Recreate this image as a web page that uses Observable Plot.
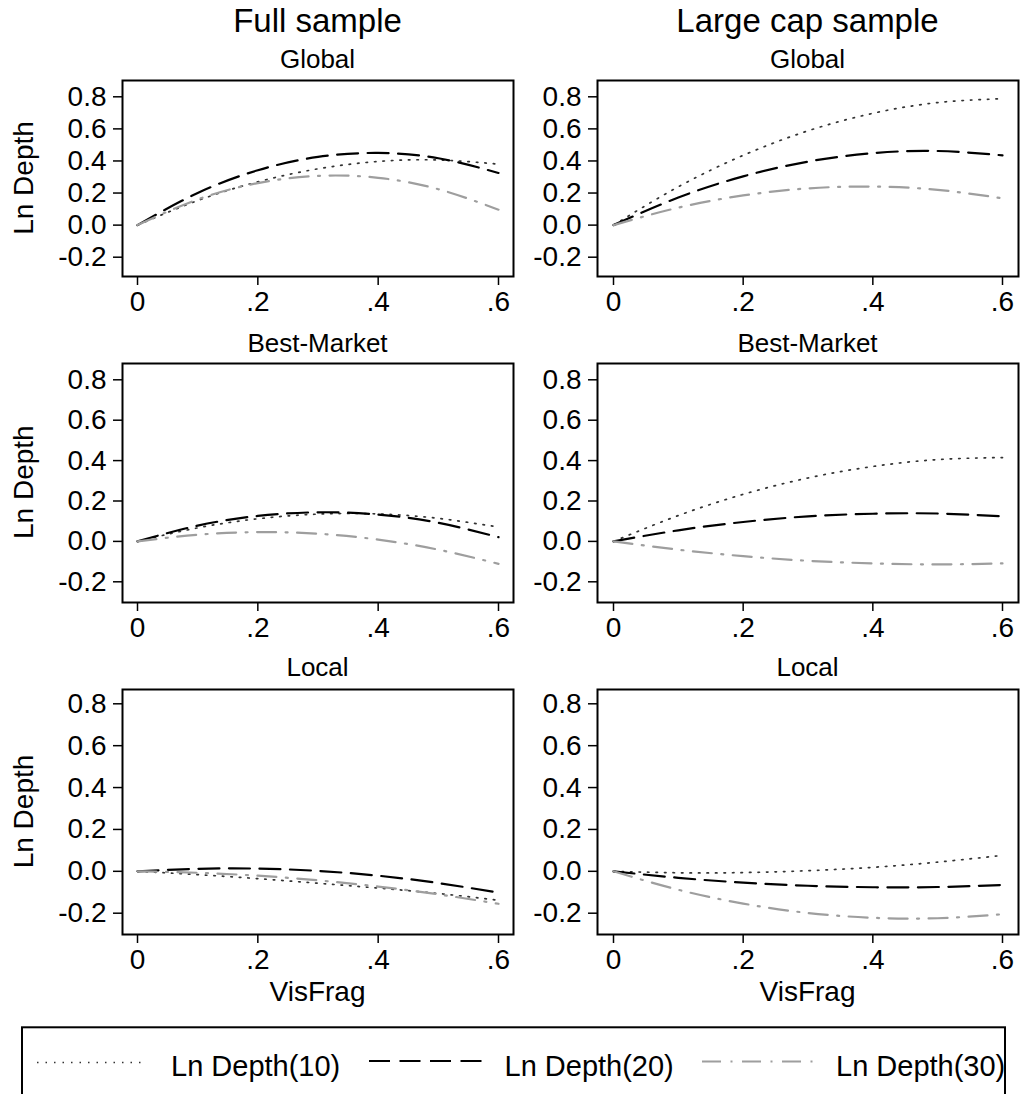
<!DOCTYPE html>
<html>
<head>
<meta charset="utf-8">
<script src="https://cdn.jsdelivr.net/npm/d3@7"></script>
<script src="https://cdn.jsdelivr.net/npm/@observablehq/plot@0.6"></script>
<style>
  html, body { margin: 0; padding: 0; background: #fff; }
  #chart { position: relative; width: 1020px; height: 1094px; overflow: hidden; background: #fff; }
  .panel { position: absolute; }
  .panel svg { max-width: none !important; display: block; }
  #overlay { position: absolute; left: 0; top: 0; pointer-events: none; }
</style>
</head>
<body>
<div id="chart"></div>
<script>
// ---------------- data ----------------
const visFrag = [0, 0.1, 0.2, 0.3, 0.4, 0.5, 0.6];
const seriesNames = ["Ln Depth(10)", "Ln Depth(20)", "Ln Depth(30)"];
const sampleTitles = ["Full sample", "Large cap sample"];
const marketTitles = ["Global", "Best-Market", "Local"];
const yTicks = [-0.2, 0, 0.2, 0.4, 0.6, 0.8];
const xTicks = [0, 0.2, 0.4, 0.6];
const yTitle = "Ln Depth";
const xTitle = "VisFrag";

// Full sample
const fullGlobal10 = [0, 0.153, 0.270, 0.351, 0.397, 0.406, 0.380];
const fullGlobal20 = [0, 0.200, 0.342, 0.425, 0.450, 0.417, 0.325];
const fullGlobal30 = [0, 0.160, 0.262, 0.307, 0.295, 0.224, 0.096];
const fullBest10   = [0, 0.067, 0.112, 0.135, 0.136, 0.114, 0.071];
const fullBest20   = [0, 0.078, 0.126, 0.144, 0.133, 0.092, 0.021];
const fullBest30   = [0, 0.033, 0.046, 0.038, 0.009, -0.041, -0.111];
const fullLocal10  = [0, -0.016, -0.035, -0.057, -0.080, -0.106, -0.138];
const fullLocal20  = [0, 0.012, 0.013, 0.002, -0.021, -0.056, -0.102];
const fullLocal30  = [0, -0.007, -0.021, -0.043, -0.073, -0.110, -0.155];
// Large cap sample
const largeGlobal10 = [0, 0.239, 0.435, 0.588, 0.697, 0.764, 0.788];
const largeGlobal20 = [0, 0.172, 0.304, 0.396, 0.449, 0.462, 0.435];
const largeGlobal30 = [0, 0.109, 0.185, 0.229, 0.240, 0.220, 0.167];
const largeBest10   = [0, 0.128, 0.233, 0.314, 0.371, 0.405, 0.415];
const largeBest20   = [0, 0.055, 0.096, 0.124, 0.137, 0.138, 0.124];
const largeBest30   = [0, -0.041, -0.073, -0.096, -0.109, -0.114, -0.109];
const largeLocal10  = [0, -0.007, -0.006, 0.003, 0.019, 0.044, 0.076];
const largeLocal20  = [0, -0.031, -0.054, -0.069, -0.076, -0.075, -0.065];
const largeLocal30  = [0, -0.088, -0.154, -0.199, -0.222, -0.224, -0.205];

const panelSeries = [
  [[fullGlobal10, fullGlobal20, fullGlobal30], [largeGlobal10, largeGlobal20, largeGlobal30]],
  [[fullBest10, fullBest20, fullBest30],       [largeBest10, largeBest20, largeBest30]],
  [[fullLocal10, fullLocal20, fullLocal30],    [largeLocal10, largeLocal20, largeLocal30]]
];

// ---------------- styles & layout ----------------
const FONT = "'Liberation Sans', Arial, Helvetica, sans-serif";
const lineStyles = [
  {stroke: "#333333", strokeWidth: 1.7, strokeDasharray: "1.5,7"},
  {stroke: "#000000", strokeWidth: 2.2, strokeDasharray: "21,9.5"},
  {stroke: "#9e9e9e", strokeWidth: 2.2, strokeDasharray: "19,9.5,2,9.5"}
];
const cols = [
  {left: 122, width: 391, insetLeft: 15, insetRight: 15, center: 317.5},
  {left: 597, width: 421, insetLeft: 16, insetRight: 16, center: 807.5}
];
const rows = [
  {top: 80,    height: 196, insetTop: 16.3, insetBottom: 19.3, titleY: 68.3},
  {top: 362.7, height: 239, insetTop: 16.3, insetBottom: 20.7, titleY: 351.7},
  {top: 689,   height: 245, insetTop: 14.3, insetBottom: 21.3, titleY: 676}
];
const ML = 112, MR = 6, MT = 4, MB = 44;

const fmtY = d => d.toFixed(1);
const fmtX = d => d === 0 ? "0" : d.toFixed(1).replace(/^0\./, ".");

const chart = document.getElementById("chart");

rows.forEach((row, ri) => {
  cols.forEach((col, ci) => {
    const series = panelSeries[ri][ci];
    const data = [];
    series.forEach((vals, si) => {
      vals.forEach((v, i) => data.push({x: visFrag[i], y: v, s: seriesNames[si]}));
    });
    const W = col.width + ML + MR, H = row.height + MT + MB;
    const svg = Plot.plot({
      width: W, height: H,
      marginLeft: ML, marginRight: MR, marginTop: MT, marginBottom: MB,
      style: {fontFamily: FONT, fontSize: "28px", color: "#000", background: "transparent", overflow: "visible", maxWidth: "none"},
      x: {domain: [0, 0.6], insetLeft: col.insetLeft, insetRight: col.insetRight},
      y: {domain: [-0.2, 0.8], insetTop: row.insetTop, insetBottom: row.insetBottom},
      marks: [
        ...seriesNames.map((name, si) => Plot.line(data.filter(d => d.s === name), {
          x: "x", y: "y", curve: "natural", ...lineStyles[si]
        })),
        Plot.frame({stroke: "#000", strokeWidth: 2}),
        Plot.axisX({ticks: xTicks, tickFormat: fmtX, tickSize: 9, tickPadding: 6, strokeWidth: 1.5, label: null}),
        Plot.axisY({ticks: yTicks, tickFormat: fmtY, tickSize: 9, tickPadding: 7, strokeWidth: 1.5, label: null})
      ]
    });
    const div = document.createElement("div");
    div.className = "panel";
    div.style.left = (col.left - ML) + "px";
    div.style.top = (row.top - MT) + "px";
    div.style.width = W + "px";
    div.style.height = H + "px";
    div.appendChild(svg);
    chart.appendChild(div);
  });
});

// ---------------- titles and legend ----------------
const ov = d3.select("#chart").append("svg")
  .attr("id", "overlay")
  .attr("width", 1020).attr("height", 1094)
  .style("font-family", FONT);

sampleTitles.forEach((t, ci) => {
  ov.append("text").attr("x", cols[ci].center).attr("y", 31.7)
    .attr("text-anchor", "middle").attr("font-size", 33).text(t);
});
rows.forEach((row, ri) => {
  cols.forEach(col => {
    ov.append("text").attr("x", col.center).attr("y", row.titleY)
      .attr("text-anchor", "middle").attr("font-size", 26).text(marketTitles[ri]);
  });
  ov.append("text")
    .attr("transform", `translate(33,${row.top + row.height / 2}) rotate(-90)`)
    .attr("text-anchor", "middle").attr("font-size", 28).text(yTitle);
});
cols.forEach(col => {
  ov.append("text").attr("x", col.center).attr("y", 1001)
    .attr("text-anchor", "middle").attr("font-size", 28).text(xTitle);
});

// legend box
ov.append("rect").attr("x", 22).attr("y", 1027.3).attr("width", 983).attr("height", 120)
  .attr("fill", "none").attr("stroke", "#000").attr("stroke-width", 2);
const legendItems = [
  {x1: 37, x2: 147, y: 1062.5, tx: 171},
  {x1: 369, x2: 485, y: 1061, tx: 504.5},
  {x1: 702, x2: 815, y: 1061.5, tx: 836}
];
legendItems.forEach((it, i) => {
  const st = lineStyles[i];
  ov.append("line").attr("x1", it.x1).attr("x2", it.x2).attr("y1", it.y).attr("y2", it.y)
    .attr("stroke", st.stroke).attr("stroke-width", st.strokeWidth)
    .attr("stroke-dasharray", st.strokeDasharray);
  ov.append("text").attr("x", it.tx).attr("y", 1076).attr("font-size", 29).text(seriesNames[i]);
});
</script>
</body>
</html>
